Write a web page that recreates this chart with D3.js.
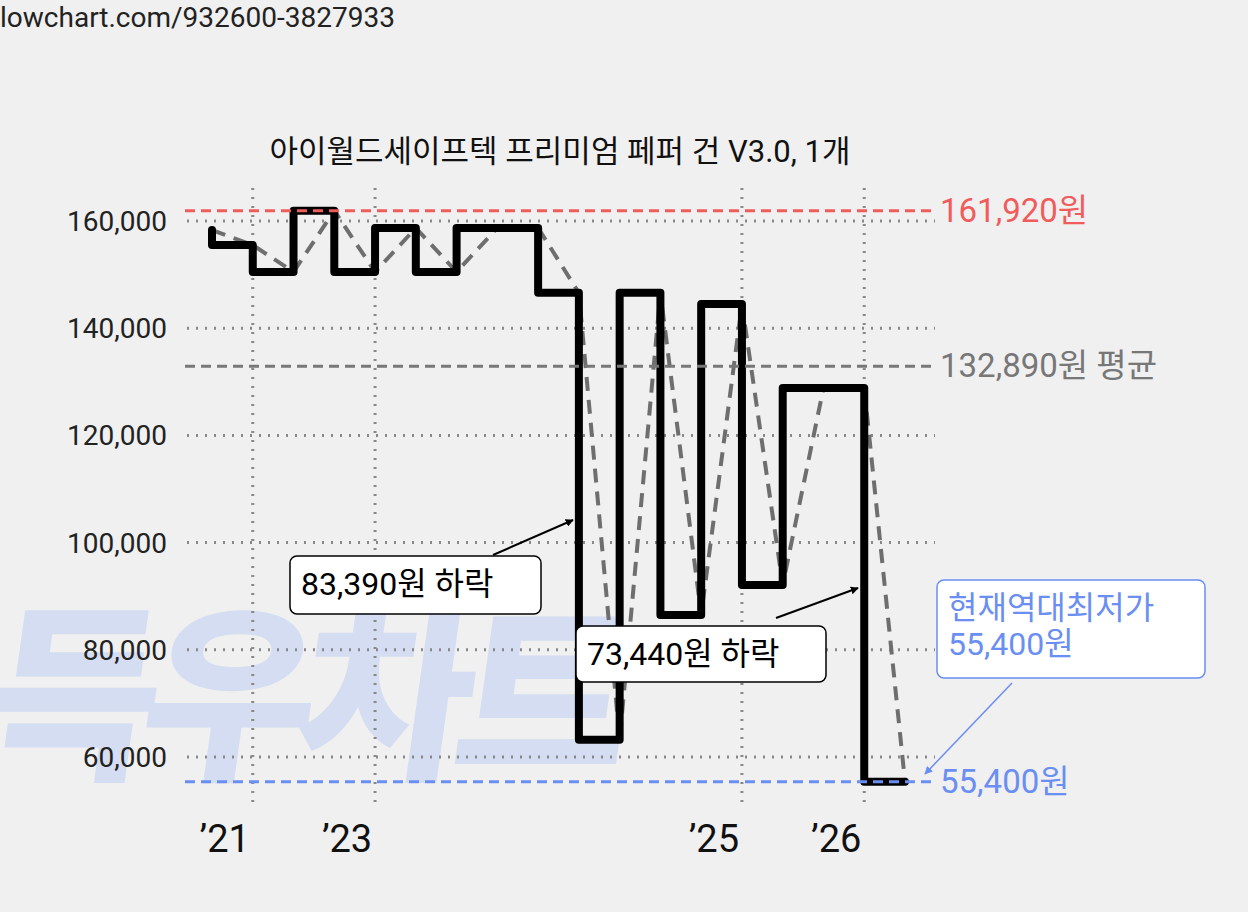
<!DOCTYPE html>
<html lang="ko">
<head>
<meta charset="UTF-8" />
<script src="https://cdn.jsdelivr.net/npm/d3@7"></script>
<style>
  body { margin: 0; background: #f0f0f0; }
  svg { display: block; font-family: Roboto, "Noto Sans CJK KR", sans-serif; }
</style>
</head>
<body>
<script>
// data (x = step index, y = price in won)
const stepIdx   = [0, 0, 1, 2, 3, 4, 5, 6, 7, 8, 9, 10, 11, 12, 13, 14, 15, 16, 17];
const prices    = [158300, 155500, 150500, 161920, 150500, 158700, 150500, 158700, 158700, 146600, 63210, 146600, 86500, 144500, 92100, 128840, 128840, 55400, 55400];
const yTicks    = [60000, 80000, 100000, 120000, 140000, 160000];
const xTickIdx  = [1, 4, 13, 16];
const xTickText = ["’21", "’23", "’25", "’26"];
const maxPrice = 161920, avgPrice = 132890, minPrice = 55400;

const W = 1248, H = 912;
const svg = d3.select("body").append("svg").attr("width", W).attr("height", H);
svg.append("rect").attr("width", W).attr("height", H).attr("fill", "#f0f0f0");

const x = d3.scaleLinear().domain([0, 17]).range([212, 905]);
const y = d3.scaleLinear().domain([60000, 160000]).range([757, 221]);

// watermark
svg.append("text")
    .attr("x", 0).attr("y", 765)
    .attr("transform", "skewX(-8) translate(85,0)")
    .attr("font-family", "Noto Sans CJK KR")
    .attr("font-size", 190).attr("font-weight", 900)
    .attr("letter-spacing", -18)
    .attr("fill", "#d4ddf1")
    .text("득우차트");

svg.append("text").attr("x", 0).attr("y", 27).attr("font-size", 28).attr("fill", "#222")
    .text("lowchart.com/932600-3827933");
svg.append("text").attr("x", 560).attr("y", 162).attr("text-anchor", "middle")
    .attr("font-size", 31).attr("fill", "#111")
    .text("아이월드세이프텍 프리미엄 페퍼 건 V3.0, 1개");

// grid
const grid = svg.append("g").attr("stroke", "#888").attr("stroke-width", 3).attr("stroke-dasharray", "2,7");
grid.selectAll(".h").data(yTicks).join("line")
    .attr("x1", 187).attr("x2", 935).attr("y1", d => y(d)).attr("y2", d => y(d));
grid.selectAll(".v").data(xTickIdx).join("line")
    .attr("x1", d => x(d)).attr("x2", d => x(d)).attr("y1", 188).attr("y2", 802);

// axes labels
svg.append("g").selectAll("text").data(yTicks).join("text")
    .attr("x", 167).attr("y", d => y(d) + 10).attr("text-anchor", "end")
    .attr("font-size", 28).attr("fill", "#222")
    .text(d => d3.format(",")(d));
svg.append("g").selectAll("text").data(xTickIdx).join("text")
    .attr("x", d => x(d) - 28).attr("y", 852).attr("text-anchor", "middle")
    .attr("font-size", 38).attr("fill", "#111")
    .text((d, i) => xTickText[i]);

const pts = stepIdx.map((d, i) => [d, prices[i]]);
// gray dashed: value of each step drawn at the end of that step
const ghost = [pts[0]].concat(pts.slice(1).map((p, i) => [p[0], prices[i]]));

svg.append("path").datum(ghost)
    .attr("fill", "none").attr("stroke", "#6e6e6e").attr("stroke-width", 4)
    .attr("stroke-dasharray", "14,9")
    .attr("d", d3.line().x(d => x(d[0])).y(d => y(d[1])));

svg.append("path").datum(pts)
    .attr("fill", "none").attr("stroke", "#000").attr("stroke-width", 8)
    .attr("stroke-linejoin", "round").attr("stroke-linecap", "round")
    .attr("d", d3.line().curve(d3.curveStepAfter).x(d => x(d[0])).y(d => y(d[1])));

// reference lines
const refs = [
  { v: maxPrice, c: "#f05c5c", t: "161,920원" },
  { v: avgPrice, c: "#777777", t: "132,890원 평균" },
  { v: minPrice, c: "#6a8ef2", t: "55,400원" }
];
refs.forEach(r => {
  svg.append("line").attr("x1", 185).attr("x2", 935).attr("y1", y(r.v)).attr("y2", y(r.v))
      .attr("stroke", r.c).attr("stroke-width", 3).attr("stroke-dasharray", "10,6");
  svg.append("text").attr("x", 940).attr("y", y(r.v) + 11).attr("font-size", 33)
      .attr("fill", r.c).text(r.t);
});

// annotations
function note(bx, by, bw, bh, lines, color, ax1, ay1, ax2, ay2, sw) {
  const id = "ah" + Math.round(bx);
  svg.append("defs").append("marker").attr("id", id).attr("viewBox", "0 0 10 10")
      .attr("refX", 9).attr("refY", 5).attr("markerWidth", 8).attr("markerHeight", 8)
      .attr("markerUnits", "userSpaceOnUse").attr("orient", "auto")
      .append("path").attr("d", "M0,0L10,5L0,10z").attr("fill", color);
  svg.append("line").attr("x1", ax1).attr("y1", ay1).attr("x2", ax2).attr("y2", ay2)
      .attr("stroke", color).attr("stroke-width", sw).attr("marker-end", `url(#${id})`);
  svg.append("rect").attr("x", bx).attr("y", by).attr("width", bw).attr("height", bh)
      .attr("rx", 7).attr("fill", "#fff").attr("stroke", color).attr("stroke-width", 1.5);
  lines.forEach((t, i) => svg.append("text").attr("x", bx + 11).attr("y", by + 39 + i * 36)
      .attr("font-size", 32).attr("fill", color).text(t));
}
note(290, 556, 251, 58, ["83,390원 하락"], "#000", 493, 555, 573, 520, 2);
note(576, 626, 250, 56, ["73,440원 하락"], "#000", 776, 618, 858, 588, 2);
note(937, 580, 268, 98, ["현재역대최저가", "55,400원"], "#6a8ef2", 1012, 683, 925, 774, 1.5);
</script>
</body>
</html>
